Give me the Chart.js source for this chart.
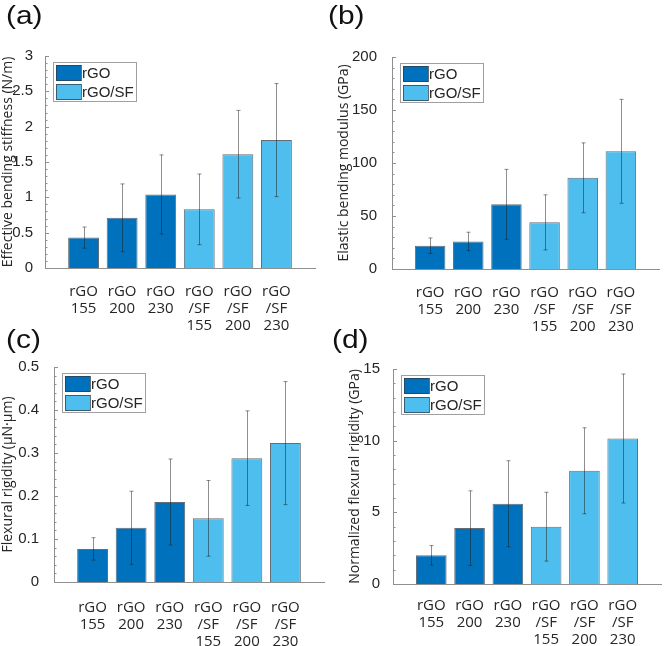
<!DOCTYPE html>
<html>
<head>
<title>rGO bending properties</title>
<script src="https://cdn.jsdelivr.net/npm/chart.js"></script>
<style>
  body { margin: 0; background: #fff; }
  #wrap { position: relative; width: 666px; height: 646px; overflow: hidden; }
  canvas { position: absolute; }
  .tag { position: absolute; font-family: "Liberation Sans", Arial, sans-serif; font-size: 26px; color: #111;
         line-height: 1; transform: scaleX(1.15); transform-origin: left top; }
</style>
</head>
<body>
<div id="wrap">
  <canvas id="chartA"></canvas>
  <canvas id="chartB"></canvas>
  <canvas id="chartC"></canvas>
  <canvas id="chartD"></canvas>
  <div class="tag" style="left:6px;top:2px">(a)</div>
  <div class="tag" style="left:328px;top:2px">(b)</div>
  <div class="tag" style="left:6px;top:326px">(c)</div>
  <div class="tag" style="left:332px;top:326px">(d)</div>
</div>

<script>
// samples and groups
const categories = [['rGO', '155'], ['rGO', '200'], ['rGO', '230'],
                    ['rGO', '/SF', '155'], ['rGO', '/SF', '200'], ['rGO', '/SF', '230']];
const groupNames = ['rGO', 'rGO/SF'];
const groupOf = [0, 0, 0, 1, 1, 1];

// (a) effective bending stiffness, N/m
const stiffness    = [0.43, 0.71, 1.04, 0.83, 1.61, 1.81];
const stiffnessErr = [0.15, 0.48, 0.56, 0.50, 0.62, 0.80];
// (b) elastic bending modulus, GPa
const modulus    = [22, 26, 61, 44, 86, 111];
const modulusErr = [7.3, 8.7, 33, 26, 33, 49];
// (c) flexural rigidity, uN*um
const rigidity    = [0.077, 0.126, 0.186, 0.148, 0.288, 0.323];
const rigidityErr = [0.026, 0.085, 0.100, 0.088, 0.110, 0.143];
// (d) normalized flexural rigidity, GPa
const normRigidity    = [2.0, 3.9, 5.6, 4.0, 7.9, 10.15];
const normRigidityErr = [0.68, 2.6, 3.0, 2.4, 3.0, 4.5];

const fillColors = ['#0072BD', '#4DBEEE'];
const edgeColor = 'rgba(45,60,75,0.75)';
const axisColor = '#8f8f8f';
const textColor = '#262626';

// error bars drawn on top of the bars
const errorBars = {
  id: 'errorBars',
  afterDatasetsDraw(chart) {
    const ctx = chart.ctx, y = chart.scales.y;
    ctx.save();
    ctx.strokeStyle = 'rgba(30,30,30,0.5)';
    ctx.lineWidth = 1;
    chart.data.datasets.forEach((ds, di) => {
      chart.getDatasetMeta(di).data.forEach((bar, i) => {
        const v = ds.data[i].y, e = ds.errors[i];
        const x = Math.round(bar.x) + 0.5;
        const top = y.getPixelForValue(v + e), bot = y.getPixelForValue(v - e);
        ctx.beginPath();
        ctx.moveTo(x, top); ctx.lineTo(x, bot);
        ctx.moveTo(x - 2, top); ctx.lineTo(x + 2, top);
        ctx.moveTo(x - 2, bot); ctx.lineTo(x + 2, bot);
        ctx.stroke();
      });
    });
    ctx.restore();
  }
};

// inward major/minor ticks on the y axis
const innerTicks = {
  id: 'innerTicks',
  afterDraw(chart, args, opts) {
    const ctx = chart.ctx, y = chart.scales.y, left = chart.chartArea.left;
    ctx.save();
    ctx.strokeStyle = axisColor;
    ctx.lineWidth = 1;
    const n = Math.round((y.max - y.min) / opts.minor);
    for (let k = 0; k <= n; k++) {
      const v = y.min + k * opts.minor;
      const py = Math.round(y.getPixelForValue(v)) + 0.5;
      const len = k % opts.per === 0 ? 4 : 2.5;
      ctx.beginPath();
      ctx.moveTo(left, py); ctx.lineTo(left + len, py);
      ctx.stroke();
    }
    ctx.restore();
  }
};

// boxed legend in the upper left corner of the plot
const boxLegend = {
  id: 'boxLegend',
  afterDraw(chart) {
    const ctx = chart.ctx, a = chart.chartArea;
    const x0 = a.left + 8, y0 = a.top + 6, w = 83, h = 39;
    ctx.save();
    ctx.fillStyle = '#fff';
    ctx.fillRect(x0, y0, w, h);
    ctx.strokeStyle = '#a0a0a0';
    ctx.lineWidth = 1;
    ctx.strokeRect(x0 + 0.5, y0 + 0.5, w, h);
    ctx.font = '15px "Liberation Sans", Arial, sans-serif';
    ctx.textBaseline = 'middle';
    chart.data.datasets.forEach((ds, i) => {
      const cy = y0 + 11 + i * 19;
      ctx.fillStyle = ds.backgroundColor;
      ctx.fillRect(x0 + 3, cy - 8, 25, 16);
      ctx.strokeStyle = edgeColor;
      ctx.strokeRect(x0 + 3.5, cy - 7.5, 25, 15);
      ctx.fillStyle = textColor;
      ctx.fillText(ds.label, x0 + 29, cy + 1);
    });
    ctx.restore();
  }
};

function makePanel(id, box, values, errs, yTitle, yMax, yStep, yMinor) {
  const canvas = document.getElementById(id);
  canvas.width = box.w; canvas.height = box.h;
  canvas.style.left = box.left + 'px';
  canvas.style.top = box.top + 'px';

  const datasets = groupNames.map((name, g) => {
    const idx = values.map((v, i) => i).filter(i => groupOf[i] === g);
    return {
      label: name,
      data: idx.map(i => ({ x: i + 1, y: values[i] })),
      errors: idx.map(i => errs[i]),
      backgroundColor: fillColors[g],
      borderColor: edgeColor,
      borderWidth: 1,
      grouped: false,
      categoryPercentage: 1,
      barPercentage: 0.8
    };
  });

  new Chart(canvas, {
    type: 'bar',
    data: { datasets },
    plugins: [errorBars, innerTicks, boxLegend],
    options: {
      responsive: false,
      animation: false,
      layout: { padding: { top: box.ct, right: box.w - box.cr, left: 0, bottom: 0 } },
      plugins: {
        legend: { display: false },
        tooltip: { enabled: false },
        innerTicks: { minor: yMinor, per: Math.round(yStep / yMinor) }
      },
      scales: {
        x: {
          type: 'linear',
          min: 0, max: 7,
          offset: false,
          afterFit: s => { s.height = box.h - box.cb; },
          grid: { display: false, offset: false },
          border: { display: true, color: axisColor },
          ticks: {
            stepSize: 1,
            autoSkip: false,
            maxRotation: 0,
            padding: box.xpad,
            color: textColor,
            font: { family: '"Open Sans", sans-serif', size: 15, lineHeight: 1.13 },
            callback: v => categories[v - 1] || ''
          }
        },
        y: {
          min: 0, max: yMax,
          afterFit: s => { s.width = box.cl; },
          grid: { display: false },
          border: { display: true, color: axisColor },
          ticks: {
            stepSize: yStep,
            padding: box.gap,
            color: textColor,
            font: { family: '"Liberation Sans", Arial, sans-serif', size: 15 },
            callback: v => String(Math.round(v * 100) / 100)
          },
          title: {
            display: true,
            text: yTitle,
            color: textColor,
            padding: { top: box.tp, bottom: 0 },
            font: { family: '"Open Sans", sans-serif', size: 14, lineHeight: 1.2 }
          }
        }
      }
    }
  });
}

makePanel('chartA', { left: 0, top: 0, w: 333, h: 340, cl: 45, ct: 56, cr: 315, cb: 268, tp: 0, gap: 4, xpad: 7 },
  stiffness, stiffnessErr, 'Effective bending stiffness (N/m)', 3, 0.5, 0.1);
makePanel('chartB', { left: 333, top: 0, w: 333, h: 340, cl: 59, ct: 57, cr: 328, cb: 269, tp: 3, gap: 7, xpad: 7 },
  modulus, modulusErr, 'Elastic bending modulus (GPa)', 200, 50, 10);
makePanel('chartC', { left: 0, top: 323, w: 333, h: 323, cl: 54, ct: 44, cr: 324, cb: 259, tp: 0, gap: 7, xpad: 9 },
  rigidity, rigidityErr, 'Flexural rigidity (\u03bcN\u00b7\u03bcm)', 0.5, 0.1, 0.02);
makePanel('chartD', { left: 333, top: 323, w: 333, h: 323, cl: 60, ct: 46, cr: 328, cb: 261, tp: 14, gap: 5, xpad: 5 },
  normRigidity, normRigidityErr, 'Normalized flexural rigidity (GPa)', 15, 5, 1);
</script>
</body>
</html>
